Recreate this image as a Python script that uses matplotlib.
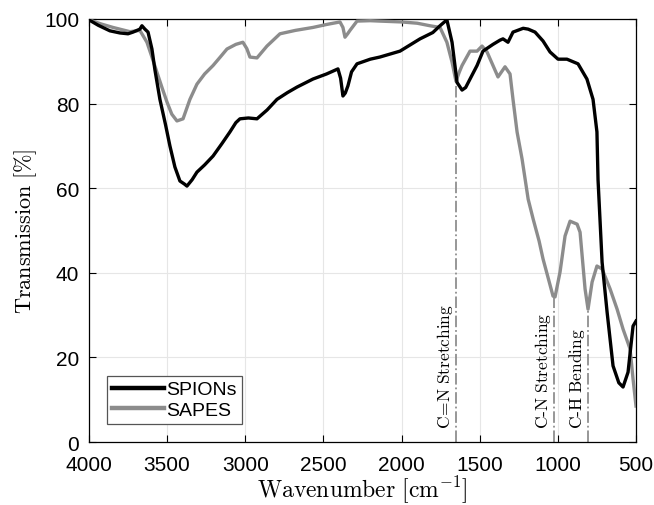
import matplotlib
matplotlib.use("Agg")
import matplotlib.pyplot as plt

plt.rcParams['mathtext.fontset'] = 'cm'
plt.rcParams['font.family'] = ['Liberation Sans', 'DejaVu Sans']

# SPIONs spectrum (wavenumber cm^-1, transmission %)
spions_wn = [4000, 3940, 3866, 3802, 3750, 3718, 3674, 3661, 3642, 3622, 3597, 3578, 3546,
             3510, 3482, 3450, 3418, 3390, 3373, 3340, 3309, 3260, 3206, 3150, 3098, 3060,
             3034, 2980, 2925, 2860, 2797, 2730, 2669, 2567, 2480, 2407, 2390, 2375, 2360,
             2343, 2320, 2285, 2200, 2139, 2010, 1882, 1800, 1754, 1710, 1677, 1645, 1613,
             1590, 1562, 1517, 1479, 1415, 1370, 1351, 1319, 1287, 1222, 1190, 1146, 1095,
             1050, 999, 942, 871, 814, 775, 750, 743, 717, 685, 647, 610, 583, 551, 519, 500]
spions_t = [99.8, 98.5, 97.2, 96.7, 96.5, 96.9, 97.6, 98.4, 97.6, 96.9, 92.9, 88.0, 81.0,
            75.0, 70.0, 65.0, 61.7, 61.0, 60.5, 62.0, 63.8, 65.5, 67.6, 70.5, 73.3, 75.5,
            76.4, 76.6, 76.4, 78.5, 81.0, 82.6, 83.9, 85.8, 87.0, 88.2, 86.0, 81.8, 82.5,
            84.2, 87.5, 89.4, 90.5, 91.0, 92.4, 95.3, 96.8, 98.4, 99.8, 94.5, 85.0, 83.2,
            83.8, 85.8, 89.0, 92.4, 94.0, 95.0, 95.3, 94.5, 96.9, 97.8, 97.6, 96.9, 94.8,
            92.2, 90.5, 90.5, 89.4, 85.8, 81.0, 73.3, 62.0, 42.5, 30.7, 18.0, 14.0, 13.0,
            16.5, 27.4, 28.6]

# SAPES spectrum
sapes_wn = [4000, 3920, 3846, 3738, 3674, 3629, 3597, 3565, 3530, 3501, 3470, 3437, 3398,
            3354, 3309, 3260, 3206, 3160, 3117, 3060, 3015, 2990, 2970, 2925, 2861, 2778,
            2680, 2567, 2480, 2394, 2375, 2362, 2345, 2330, 2285, 2200, 2139, 2000, 1900,
            1818, 1754, 1710, 1677, 1652, 1630, 1613, 1562, 1517, 1485, 1453, 1415, 1383,
            1338, 1306, 1287, 1261, 1229, 1190, 1158, 1120, 1095, 1060, 1031, 1018, 986,
            954, 922, 877, 858, 826, 807, 781, 750, 717, 666, 621, 583, 538, 519, 500]
sapes_t = [99.8, 98.8, 98.0, 97.0, 97.3, 94.5, 91.0, 87.4, 83.5, 80.4, 77.5, 75.9, 76.4,
           81.0, 84.6, 87.0, 89.0, 91.0, 92.9, 94.0, 94.5, 93.0, 91.0, 90.8, 93.6, 96.5,
           97.3, 98.0, 98.7, 99.3, 98.0, 95.7, 96.5, 97.3, 99.5, 99.6, 99.5, 99.3, 99.0,
           98.4, 98.0, 94.5, 89.8, 85.3, 87.5, 89.0, 92.4, 92.4, 93.6, 92.2, 89.0, 86.3,
           88.7, 87.0, 81.0, 73.3, 66.9, 57.4, 52.7, 47.5, 43.3, 38.5, 34.5, 34.3, 40.2,
           48.7, 52.2, 51.5, 49.6, 36.2, 31.4, 37.8, 41.6, 40.9, 36.2, 31.4, 26.7, 22.0,
           14.9, 8.5]

# Peak annotations
peak_wn = [1652, 1025, 807]
peak_top = [85.3, 34.3, 31.4]
peak_labels = [r'$\mathrm{C}\!=\!\mathrm{N\ Stretching}$', r'$\mathrm{C\text{-}N\ Stretching}$',
               r'$\mathrm{C\text{-}H\ Bending}$']

x_ticks = [4000, 3500, 3000, 2500, 2000, 1500, 1000, 500]
y_ticks = [0, 20, 40, 60, 80, 100]

fig = plt.figure(figsize=(6.54, 5.06), dpi=100)
ax = fig.add_axes([0.136, 0.1245, 0.8365, 0.836])

gray = '#8c8c8c'
for wn, top, lab in zip(peak_wn, peak_top, peak_labels):
    ax.plot([wn, wn], [0, top], color='#8f8f8f', lw=1.3, ls='-.', zorder=2)
    ax.text(wn + 72, 3.3, lab, rotation=90, ha='center', va='bottom', fontsize=12.5)

ax.plot(spions_wn, spions_t, color='black', lw=2.4, label='SPIONs', zorder=4)
ax.plot(sapes_wn, sapes_t, color=gray, lw=2.4, label='SAPES', zorder=3)

ax.set_xlim(4000, 500)
ax.set_ylim(0, 100)
ax.set_xticks(x_ticks)
ax.set_yticks(y_ticks)
ax.tick_params(direction='in', top=True, right=True, labelsize=15, length=5, width=0.8)
ax.tick_params(axis='x', pad=9)
ax.tick_params(axis='y', pad=7)
ax.grid(True, color='#e6e6e6', lw=0.8)
ax.set_axisbelow(True)
for s in ax.spines.values():
    s.set_linewidth(0.9)

ax.set_xlabel(r'$\mathrm{Wavenumber\ [cm^{-1}]}$', fontsize=17, labelpad=0)
ax.set_ylabel(r'$\mathrm{Transmission\ [\%]}$', fontsize=16, labelpad=4)

leg = ax.legend(loc='lower left', fontsize=14, handlelength=2.7, handletextpad=0.1,
                borderpad=0.25, labelspacing=0.15, fancybox=False, framealpha=1,
                edgecolor='#555555', bbox_to_anchor=(0.015, 0.02))
leg.get_frame().set_linewidth(0.9)
for h in leg.get_lines():
    h.set_linewidth(3.2)

fig.savefig('out.png', dpi=100)
